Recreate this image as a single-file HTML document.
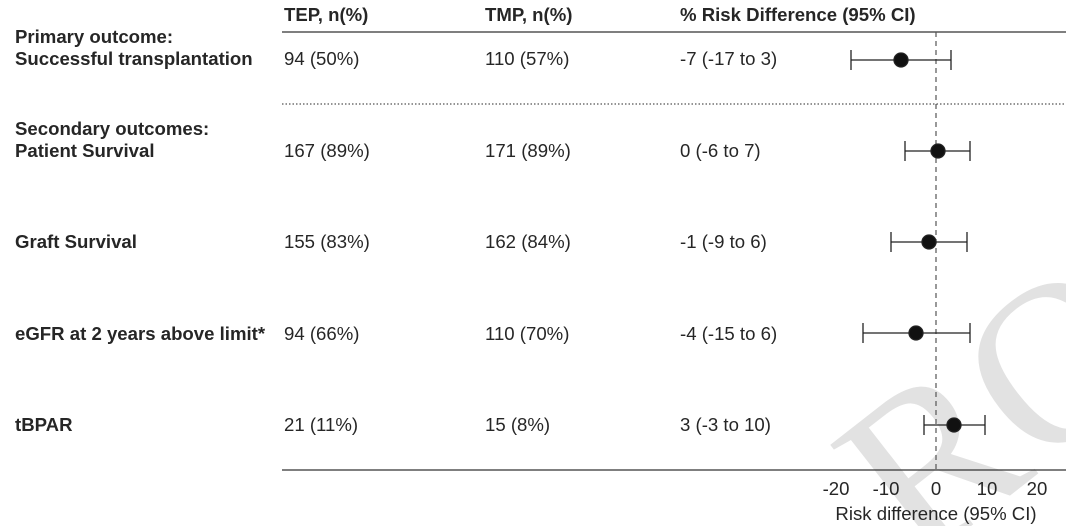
<!DOCTYPE html>
<html><head><style>
html,body{margin:0;width:1066px;height:526px;background:#fff;overflow:hidden;font-family:"Liberation Sans",sans-serif;}
svg{display:block}
</style></head><body>
<svg width="1066" height="526" xmlns="http://www.w3.org/2000/svg" style="position:absolute;left:0;top:0">
<g fill="#e2e2e2" font-family="Liberation Serif,serif">
<text x="860" y="560" font-size="230" transform="rotate(-38 900 480)">RO</text>
</g>
<g font-family="Liberation Sans,sans-serif" font-size="18.6" fill="#262626">
<g font-weight="bold">
<text x="284" y="21">TEP, n(%)</text>
<text x="485" y="21">TMP, n(%)</text>
<text x="680" y="21">% Risk Difference (95% CI)</text>
<text x="15" y="43">Primary outcome:</text>
<text x="15" y="65">Successful transplantation</text>
<text x="15" y="135">Secondary outcomes:</text>
<text x="15" y="157">Patient Survival</text>
<text x="15" y="248">Graft Survival</text>
<text x="15" y="340">eGFR at 2 years above limit*</text>
<text x="15" y="431">tBPAR</text>
</g>
<text x="284" y="65">94 (50%)</text><text x="485" y="65">110 (57%)</text><text x="680" y="65">-7 (-17 to 3)</text>
<text x="284" y="157">167 (89%)</text><text x="485" y="157">171 (89%)</text><text x="680" y="157">0 (-6 to 7)</text>
<text x="284" y="248">155 (83%)</text><text x="485" y="248">162 (84%)</text><text x="680" y="248">-1 (-9 to 6)</text>
<text x="284" y="340">94 (66%)</text><text x="485" y="340">110 (70%)</text><text x="680" y="340">-4 (-15 to 6)</text>
<text x="284" y="431">21 (11%)</text><text x="485" y="431">15 (8%)</text><text x="680" y="431">3 (-3 to 10)</text>
<g text-anchor="middle">
<text x="836" y="495">-20</text><text x="886" y="495">-10</text><text x="936" y="495">0</text><text x="987" y="495">10</text><text x="1037" y="495">20</text>
<text x="936" y="520">Risk difference (95% CI)</text>
</g>
</g>
<line x1="282" y1="32" x2="1066" y2="32" stroke="#333" stroke-width="1.3"/>
<line x1="282" y1="104" x2="1066" y2="104" stroke="#555" stroke-width="1.3" stroke-dasharray="1.5,2"/>
<line x1="282" y1="470" x2="1066" y2="470" stroke="#333" stroke-width="1.3"/>
<line x1="936" y1="32" x2="936" y2="470" stroke="#555" stroke-width="1.2" stroke-dasharray="5,4"/>
<g stroke="#222" stroke-width="1.3" fill="#111">
<line x1="851" y1="60" x2="951" y2="60"/><line x1="851" y1="50" x2="851" y2="70"/><line x1="951" y1="50" x2="951" y2="70"/><circle cx="901" cy="60" r="7"/>
<line x1="905" y1="151" x2="970" y2="151"/><line x1="905" y1="141" x2="905" y2="161"/><line x1="970" y1="141" x2="970" y2="161"/><circle cx="938" cy="151" r="7"/>
<line x1="891" y1="242" x2="967" y2="242"/><line x1="891" y1="232" x2="891" y2="252"/><line x1="967" y1="232" x2="967" y2="252"/><circle cx="929" cy="242" r="7"/>
<line x1="863" y1="333" x2="970" y2="333"/><line x1="863" y1="323" x2="863" y2="343"/><line x1="970" y1="323" x2="970" y2="343"/><circle cx="916" cy="333" r="7"/>
<line x1="924" y1="425" x2="985" y2="425"/><line x1="924" y1="415" x2="924" y2="435"/><line x1="985" y1="415" x2="985" y2="435"/><circle cx="954" cy="425" r="7"/>
</g>
</svg>
</body></html>
